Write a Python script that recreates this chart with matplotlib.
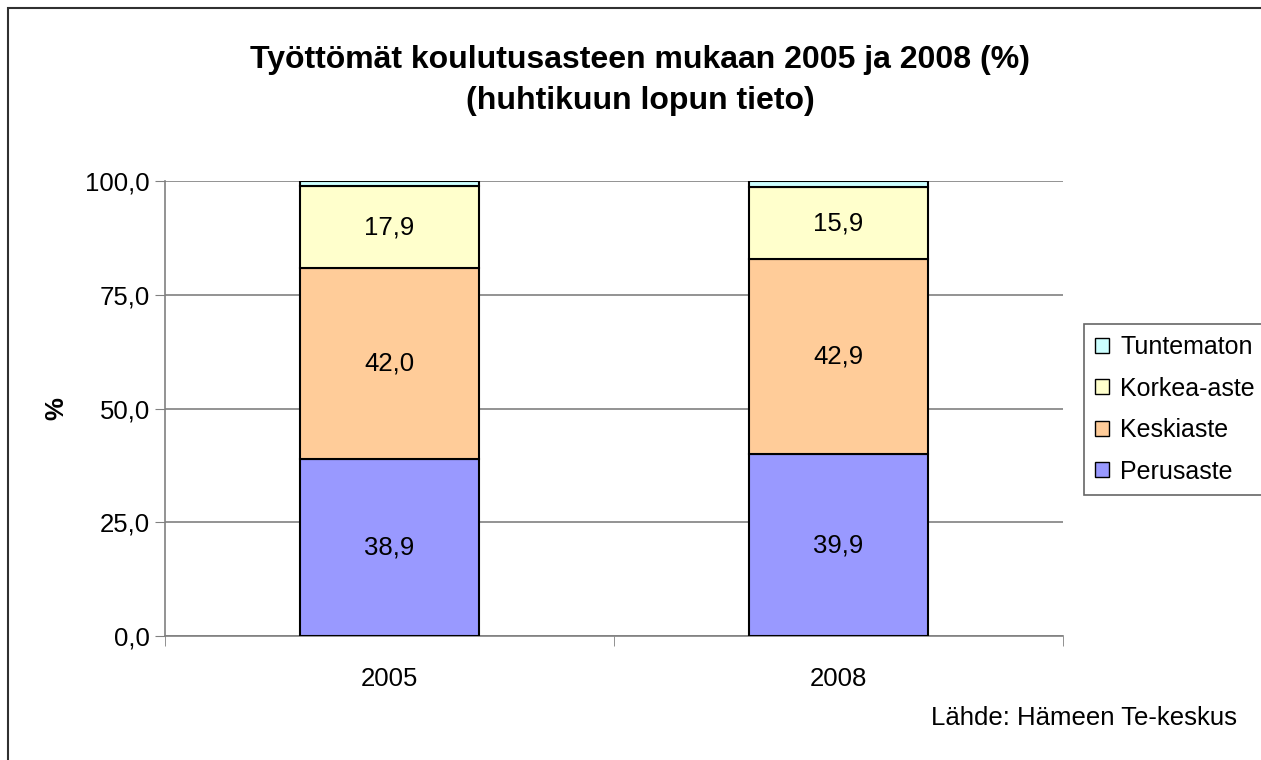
import matplotlib
matplotlib.use("Agg")
import matplotlib.pyplot as plt
from matplotlib.patches import Rectangle
import numpy as np

plt.rcParams['font.family'] = ['Liberation Sans', 'DejaVu Sans']

years = ["2005", "2008"]
series = ["Perusaste", "Keskiaste", "Korkea-aste", "Tuntematon"]
perusaste = [38.9, 39.9]
keskiaste = [42.0, 42.9]
korkea = [17.9, 15.9]
tuntematon = [1.2, 1.3]
values = [perusaste, keskiaste, korkea, tuntematon]
colors = ["#9999FF", "#FFCC99", "#FFFFCC", "#CCFFFF"]
show_labels = [True, True, True, False]
yticks = [0, 25, 50, 75, 100]

FS = 18.5
W, H = 1261, 760
fig = plt.figure(figsize=(W / 100, H / 100), dpi=100)
ax = fig.add_axes([165 / W, (H - 636) / H, 898 / W, 455 / H])

x = np.arange(len(years))
bottom = np.zeros(len(years))
handles = []
for vals, col, name, show in zip(values, colors, series, show_labels):
    bars = ax.bar(x, vals, width=0.4, bottom=bottom, color=col,
                  edgecolor="black", linewidth=1.5, label=name, zorder=3)
    handles.append(bars)
    if show:
        for xi, b, v in zip(x, bottom, vals):
            ax.text(xi, b + v / 2, f"{v:.1f}".replace(".", ","), ha="center",
                    va="center", fontsize=FS, zorder=4)
    bottom = bottom + np.array(vals)

ax.set_xlim(-0.5, len(years) - 0.5)
ax.set_ylim(0, 100)
ax.set_yticks(yticks)
ax.set_yticklabels([f"{t:.1f}".replace(".", ",") for t in yticks], fontsize=FS)
ax.set_xticks(x)
ax.set_xticklabels(years, fontsize=FS)
ax.tick_params(axis="x", length=0, pad=22)
ax.set_xticks([-0.5, 0.5, 1.5], minor=True)
ax.tick_params(axis="x", which="minor", length=7, color="#808080")
ax.tick_params(axis="y", length=7, color="#808080", pad=4)
ax.yaxis.grid(True, color="#808080", linewidth=1.2, zorder=0)
ax.set_axisbelow(True)
for s in ["top", "right"]:
    ax.spines[s].set_visible(False)
for s in ["left", "bottom"]:
    ax.spines[s].set_color("#808080")
    ax.spines[s].set_linewidth(1.2)

ax.set_ylabel("%", fontsize=FS, fontweight="bold", labelpad=12)

fig.text(640 / W, 1 - 60 / H, "Työttömät koulutusasteen mukaan 2005 ja 2008 (%)",
         ha="center", va="center", fontsize=23, fontweight="bold")
fig.text(640 / W, 1 - 101 / H, "(huhtikuun lopun tieto)",
         ha="center", va="center", fontsize=23, fontweight="bold")
fig.text(1237 / W, 1 - 718 / H, "Lähde: Hämeen Te-keskus", ha="right",
         va="center", fontsize=FS)

leg = fig.legend(handles[::-1], series[::-1], loc="upper left",
                 bbox_to_anchor=(1084 / W, 1 - 324 / H), fontsize=18,
                 frameon=True, fancybox=False, handlelength=0.55,
                 handleheight=0.55, handletextpad=0.45, labelspacing=0.7,
                 borderpad=0.45, borderaxespad=0)
leg.get_frame().set_edgecolor("#404040")
leg.get_frame().set_linewidth(1.2)
for h in leg.legend_handles:
    h.set_linewidth(1.0)

fig.add_artist(Rectangle((8 / W, -0.1), 2, 1 - 8 / H + 0.1, transform=fig.transFigure,
                         fill=False, edgecolor="#303030", linewidth=1.5))

fig.savefig("out.png", dpi=100)
